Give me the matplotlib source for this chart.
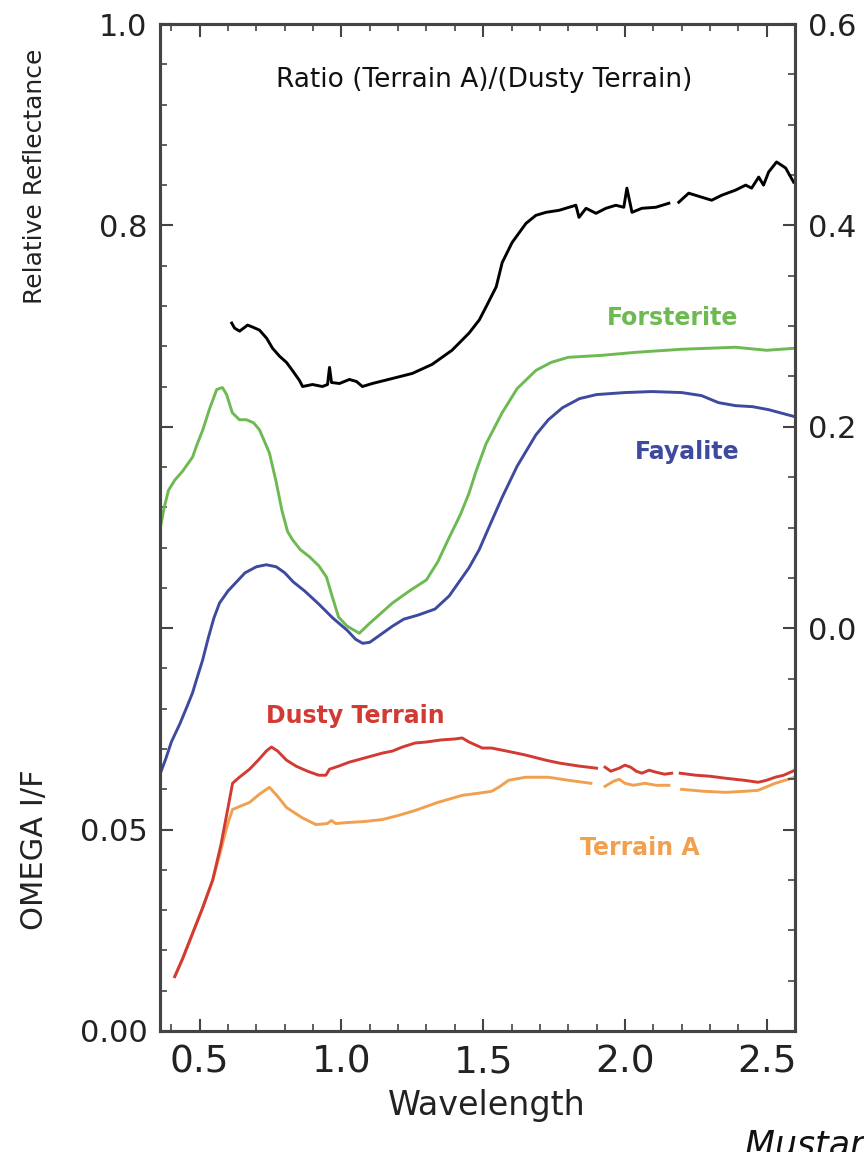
import numpy as np
import matplotlib
matplotlib.use("Agg")
import matplotlib.pyplot as plt
from matplotlib.ticker import MultipleLocator

plt.rcParams["font.family"] = ["DejaVu Sans"]

nan = np.nan

# Forsterite (relative reflectance, offset)
wl_forsterite = [0.36, 0.375, 0.39, 0.412, 0.44, 0.475, 0.49, 0.511, 0.535, 0.56, 0.58, 0.595,
                 0.615, 0.64, 0.665, 0.69, 0.711, 0.746, 0.77, 0.79, 0.81, 0.827, 0.855, 0.887,
                 0.92, 0.947, 0.968, 0.99, 1.02, 1.063, 1.10, 1.14, 1.18, 1.24, 1.30, 1.34,
                 1.38, 1.42, 1.45, 1.475, 1.51, 1.567, 1.62, 1.686, 1.74, 1.80, 1.92, 2.04,
                 2.2, 2.39, 2.5, 2.6]
refl_forsterite = [0.498, 0.520, 0.537, 0.547, 0.556, 0.570, 0.582, 0.597, 0.618, 0.637, 0.639, 0.632,
                   0.614, 0.607, 0.607, 0.604, 0.597, 0.574, 0.545, 0.517, 0.496, 0.488, 0.478, 0.471,
                   0.462, 0.451, 0.431, 0.411, 0.402, 0.395, 0.405, 0.415, 0.425, 0.437, 0.448, 0.466,
                   0.490, 0.513, 0.534, 0.556, 0.583, 0.614, 0.638, 0.656, 0.664, 0.669, 0.671, 0.674,
                   0.677, 0.679, 0.676, 0.678]

# Fayalite
wl_fayalite = [0.36, 0.38, 0.40, 0.43, 0.455, 0.475, 0.49, 0.51, 0.53, 0.55, 0.57, 0.60, 0.63,
               0.66, 0.70, 0.735, 0.77, 0.80, 0.83, 0.87, 0.92, 0.97, 1.02, 1.05, 1.075, 1.10,
               1.14, 1.18, 1.22, 1.27, 1.33, 1.38, 1.415, 1.45, 1.486, 1.52, 1.567, 1.62, 1.686,
               1.73, 1.78, 1.84, 1.90, 2.0, 2.095, 2.2, 2.27, 2.33, 2.39, 2.45, 2.507, 2.56, 2.6]
refl_fayalite = [0.255, 0.270, 0.287, 0.305, 0.322, 0.336, 0.350, 0.368, 0.390, 0.410, 0.425, 0.437, 0.446,
                 0.455, 0.461, 0.463, 0.461, 0.455, 0.446, 0.437, 0.424, 0.410, 0.398, 0.389, 0.385, 0.386,
                 0.394, 0.402, 0.409, 0.413, 0.419, 0.432, 0.446, 0.460, 0.478, 0.500, 0.530, 0.561, 0.592,
                 0.607, 0.619, 0.628, 0.632, 0.634, 0.635, 0.634, 0.631, 0.624, 0.621, 0.620, 0.617, 0.613, 0.610]

# Ratio (Terrain A)/(Dusty Terrain), right axis
wl_ratio = [0.613, 0.623, 0.641, 0.669, 0.687, 0.711, 0.736, 0.757, 0.782, 0.806, 0.827, 0.852, 0.863,
            0.898, 0.933, 0.951, 0.958, 0.965, 0.993, 1.028, 1.053, 1.074, 1.109, 1.18, 1.25, 1.32,
            1.39, 1.45, 1.486, 1.51, 1.546, 1.567, 1.602, 1.651, 1.686, 1.722, 1.768, 1.803, 1.827,
            1.838, 1.863, 1.898, 1.933, 1.968, 1.996, 2.007, 2.025, 2.06, 2.109, 2.155, 2.17, 2.19,
            2.225, 2.271, 2.306, 2.342, 2.39, 2.426, 2.447, 2.472, 2.489, 2.507, 2.535, 2.567, 2.595]
ratio = [0.303, 0.298, 0.295, 0.301, 0.299, 0.296, 0.288, 0.278, 0.270, 0.264, 0.256, 0.246, 0.240,
         0.242, 0.240, 0.242, 0.259, 0.244, 0.243, 0.247, 0.245, 0.240, 0.243, 0.248, 0.253, 0.262,
         0.276, 0.293, 0.306, 0.319, 0.339, 0.363, 0.383, 0.402, 0.410, 0.413, 0.415, 0.418, 0.420,
         0.408, 0.417, 0.412, 0.417, 0.420, 0.418, 0.437, 0.413, 0.417, 0.418, 0.422, nan, 0.423,
         0.432, 0.428, 0.425, 0.430, 0.435, 0.440, 0.437, 0.448, 0.440, 0.453, 0.463, 0.457, 0.443]

# OMEGA I/F spectra (lower part of the left axis)
wl_dusty = [0.412, 0.44, 0.475, 0.51, 0.546, 0.575, 0.60, 0.616, 0.64, 0.676, 0.71, 0.735, 0.753,
            0.775, 0.806, 0.84, 0.88, 0.92, 0.945, 0.958, 0.99, 1.028, 1.08, 1.145, 1.18, 1.215,
            1.26, 1.30, 1.35, 1.40, 1.426, 1.45, 1.497, 1.53, 1.60, 1.65, 1.72, 1.77, 1.84, 1.90,
            1.915, 1.93, 1.95, 1.98, 2.00, 2.02, 2.04, 2.06, 2.085, 2.11, 2.14, 2.165, 2.18, 2.195,
            2.25, 2.30, 2.355, 2.42, 2.47, 2.50, 2.53, 2.56, 2.6]
if_dusty = [0.054, 0.072, 0.097, 0.122, 0.150, 0.185, 0.222, 0.246, 0.252, 0.260, 0.270, 0.278, 0.282,
            0.278, 0.269, 0.263, 0.258, 0.254, 0.254, 0.260, 0.263, 0.267, 0.271, 0.276, 0.278, 0.282,
            0.286, 0.287, 0.289, 0.290, 0.291, 0.287, 0.281, 0.281, 0.277, 0.274, 0.269, 0.266, 0.263, 0.261,
            nan, 0.262, 0.258, 0.261, 0.264, 0.262, 0.258, 0.256, 0.259, 0.257, 0.255, 0.256, nan, 0.256,
            0.254, 0.253, 0.251, 0.249, 0.247, 0.249, 0.252, 0.254, 0.259]

wl_terrain_a = [0.412, 0.44, 0.475, 0.51, 0.546, 0.575, 0.60, 0.616, 0.65, 0.676, 0.71, 0.746, 0.775,
                0.806, 0.86, 0.91, 0.95, 0.965, 0.98, 1.02, 1.08, 1.145, 1.20, 1.26, 1.34, 1.426,
                1.48, 1.53, 1.56, 1.59, 1.65, 1.73, 1.80, 1.88, 1.91, 1.93, 1.96, 1.98, 2.00, 2.03,
                2.07, 2.11, 2.155, 2.18, 2.20, 2.28, 2.355, 2.42, 2.47, 2.53, 2.6]
if_terrain_a = [0.054, 0.072, 0.097, 0.122, 0.150, 0.180, 0.207, 0.220, 0.224, 0.227, 0.235, 0.242, 0.233,
                0.222, 0.212, 0.205, 0.206, 0.209, 0.206, 0.207, 0.208, 0.210, 0.214, 0.219, 0.227, 0.234,
                0.236, 0.238, 0.243, 0.249, 0.252, 0.252, 0.249, 0.246, nan, 0.243, 0.248, 0.250, 0.246, 0.244,
                0.246, 0.244, 0.244, nan, 0.240, 0.238, 0.237, 0.238, 0.239, 0.246, 0.252]

c_green = "#6dba52"
c_blue = "#3d4a9e"
c_red = "#d23a34"
c_orange = "#f0a04e"
c_axis = "#444444"
c_text = "#222222"

fig = plt.figure(figsize=(8.64, 11.52), dpi=100)
ax = fig.add_axes([160 / 864, 1 - 1031 / 1152, 635 / 864, 1007 / 1152])
ax2 = ax.twinx()

ax.plot(wl_forsterite, refl_forsterite, color=c_green, lw=2.1)
ax.plot(wl_fayalite, refl_fayalite, color=c_blue, lw=2.1)
ax.plot(wl_terrain_a, if_terrain_a, color=c_orange, lw=2.1)
ax.plot(wl_dusty, if_dusty, color=c_red, lw=2.1)
ax2.plot(wl_ratio, ratio, color="black", lw=2.1)

ax.set_xlim(0.36, 2.6)
ax.set_ylim(0, 1.0)
ax2.set_ylim(-0.4, 0.6)

ax.set_xticks([0.5, 1.0, 1.5, 2.0, 2.5])
ax.set_xticklabels(["0.5", "1.0", "1.5", "2.0", "2.5"])
ax.xaxis.set_minor_locator(MultipleLocator(0.1))
ax.set_yticks([0, 0.2, 0.4, 0.6, 0.8, 1.0])
ax.set_yticklabels(["0.00", "0.05", "", "", "0.8", "1.0"])
ax.yaxis.set_minor_locator(MultipleLocator(0.04))
ax2.set_yticks([-0.4, -0.2, 0.0, 0.2, 0.4, 0.6])
ax2.set_yticklabels(["", "", "0.0", "0.2", "0.4", "0.6"])
ax2.yaxis.set_minor_locator(MultipleLocator(0.05))

ax.tick_params(axis="x", which="both", direction="in", top=True, colors=c_axis,
               labelcolor=c_text, labelsize=27, pad=10)
ax.tick_params(axis="y", which="both", direction="in", colors=c_axis,
               labelcolor=c_text, labelsize=22, pad=9)
ax2.tick_params(axis="y", which="both", direction="in", colors=c_axis,
                labelcolor=c_text, labelsize=22, pad=9)
for a in (ax, ax2):
    a.tick_params(which="major", length=9, width=1.5)
    a.tick_params(which="minor", length=5, width=1.2)
    for s in a.spines.values():
        s.set_color(c_axis)
        s.set_linewidth(2.2)

ax.text(1.503, 0.944, "Ratio (Terrain A)/(Dusty Terrain)", ha="center", va="center",
        fontsize=19, color="#111111")
ax.text(2.169, 0.708, "Forsterite", ha="center", va="center", fontsize=17,
        fontweight="bold", color=c_green)
ax.text(2.218, 0.575, "Fayalite", ha="center", va="center", fontsize=17,
        fontweight="bold", color=c_blue)
ax.text(1.049, 0.313, "Dusty Terrain", ha="center", va="center", fontsize=17,
        fontweight="bold", color=c_red)
ax.text(2.053, 0.182, "Terrain A", ha="center", va="center", fontsize=17,
        fontweight="bold", color=c_orange)

fig.text(487 / 864, 1 - 1105 / 1152, "Wavelength", ha="center", va="center",
         fontsize=24, color=c_text)
fig.text(35 / 864, 1 - 176 / 1152, "Relative Reflectance", ha="center", va="center",
         rotation=90, fontsize=18, color=c_text)
fig.text(35 / 864, 1 - 850 / 1152, "OMEGA I/F", ha="center", va="center",
         rotation=90, fontsize=22, color=c_text)
fig.text(745 / 864, 1 - 1156 / 1152, "Mustard et al., 2005", ha="left", va="baseline",
         fontsize=25, style="italic", color="#111111")

fig.savefig("out.png", dpi=100)
